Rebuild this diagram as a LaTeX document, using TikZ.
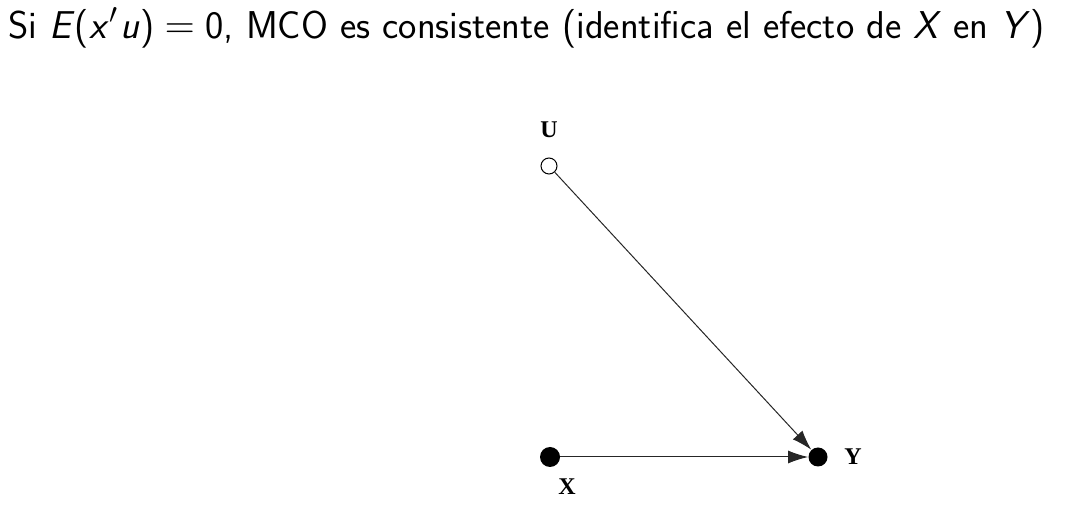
\documentclass[tikz,border=0pt]{standalone}
\usepackage{fontspec}
\newfontfamily\labfont{Liberation Serif}
\usetikzlibrary{arrows.meta}
\begin{document}
\begin{tikzpicture}[x=0.5pt,y=-0.5pt,
  open/.style={circle,draw=black,fill=white,line width=0.5pt,minimum size=8pt,inner sep=0pt},
  solid/.style={circle,fill=black,minimum size=10pt,inner sep=0pt},
  lab/.style={font=\labfont\fontsize{12}{14}\selectfont\bfseries,inner sep=0pt},
  edge/.style={draw=black!85,line width=0.5pt,-{Latex[length=10pt,width=6.5pt]}}]
\useasboundingbox (0,0) rectangle (1076,517);
\node[anchor=base west,inner sep=0pt,font=\sffamily\fontsize{19.4}{23}\selectfont] (title) at (8,39)
  {Si \textit{E}(\textit{x}\kern0.5pt$'$\kern1pt\textit{u})\;$=$\;0, MCO es consistente (identifica el efecto de \textit{X} en \textit{Y})};
\node[open] (U) at (549,166) {};
\node[solid] (X) at (550,457) {};
\node[solid,minimum size=9.5pt] (Y) at (818,457) {};
\node[lab] (Ul) at (549,130) {U};
\node[lab] (Xl) at (567,487) {X};
\node[lab] (Yl) at (853,457) {Y};
\draw[edge] (U) -- (Y);
\draw[edge] (X) -- (Y);
\end{tikzpicture}
\end{document}
